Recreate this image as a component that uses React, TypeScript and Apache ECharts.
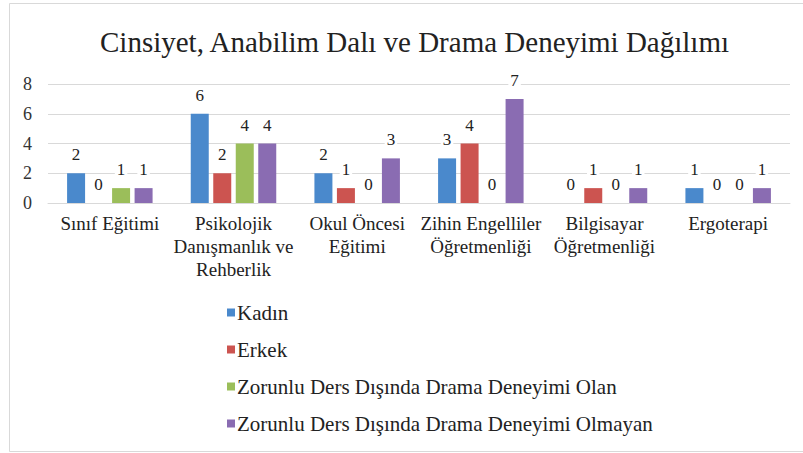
import React, { useEffect, useRef } from "react";
import * as echarts from "echarts";

const categories = [
  "Sınıf Eğitimi",
  "Psikolojik\nDanışmanlık ve\nRehberlik",
  "Okul Öncesi\nEğitimi",
  "Zihin Engelliler\nÖğretmenliği",
  "Bilgisayar\nÖğretmenliği",
  "Ergoterapi",
];
const seriesNames = [
  "Kadın",
  "Erkek",
  "Zorunlu Ders Dışında Drama Deneyimi Olan",
  "Zorunlu Ders Dışında Drama Deneyimi Olmayan",
];
const kadin = [2, 6, 2, 3, 0, 1];
const erkek = [0, 2, 1, 4, 1, 0];
const olan = [1, 4, 0, 0, 0, 0];
const olmayan = [1, 4, 3, 7, 1, 1];
const colors = ["#4A89CC", "#CC5450", "#9BBE5A", "#8A6CB2"];

const FONT = "Liberation Serif";

export default function App() {
  const ref = useRef<HTMLDivElement>(null);
  useEffect(() => {
    if (!ref.current) return;
    const chart = echarts.init(ref.current, undefined, { renderer: "svg" });
    const values = [kadin, erkek, olan, olmayan];
    chart.setOption({
      animation: false,
      backgroundColor: "#fff",
      textStyle: { fontFamily: FONT },
      title: {
        text: "Cinsiyet, Anabilim Dalı ve Drama Deneyimi Dağılımı",
        left: 95,
        top: 22,
        textStyle: { fontFamily: FONT, fontSize: 29, fontWeight: "normal", color: "#222" },
      },
      graphic: [
        {
          type: "rect",
          shape: { x: 9.5, y: 3.5, width: 800, height: 448 },
          style: { fill: "none", stroke: "#d9d9d9", lineWidth: 1 },
          silent: true,
        },
      ],
      legend: {
        orient: "vertical",
        left: 222,
        top: 297,
        itemWidth: 8,
        itemHeight: 8,
        itemGap: 16,
        icon: "rect",
        textStyle: { fontFamily: FONT, fontSize: 21, color: "#222", lineHeight: 18, padding: [0, 0, 0, -3] },
        data: seriesNames,
      },
      grid: { left: 48, right: 13, top: 84, bottom: 250, containLabel: false },
      xAxis: {
        type: "category",
        data: categories,
        axisLine: { show: true, lineStyle: { color: "#d9d9d9" } },
        axisTick: { show: false },
        axisLabel: {
          interval: 0,
          fontFamily: FONT,
          fontSize: 19,
          color: "#222",
          lineHeight: 23,
          margin: 9,
        },
      },
      yAxis: {
        type: "value",
        min: 0,
        max: 8,
        interval: 2,
        axisLine: { show: false },
        axisTick: { show: false },
        splitLine: { lineStyle: { color: "#d9d9d9" } },
        axisLabel: { fontFamily: FONT, fontSize: 18, color: "#333", margin: 16 },
      },
      series: seriesNames.map((name, i) => ({
        name,
        type: "bar",
        data: values[i],
        barWidth: 18,
        barGap: "25%",
        itemStyle: { color: colors[i] },
        label: {
          show: true,
          position: "top",
          distance: 9,
          fontFamily: FONT,
          fontSize: 17,
          color: "#222",
          backgroundColor: "#fff",
          padding: [1, 2],
        },
      })),
    });
    return () => chart.dispose();
  }, []);
  return (
    <div
      ref={ref}
      style={{ position: "fixed", left: 0, top: 0, width: 803, height: 453 }}
    />
  );
}
